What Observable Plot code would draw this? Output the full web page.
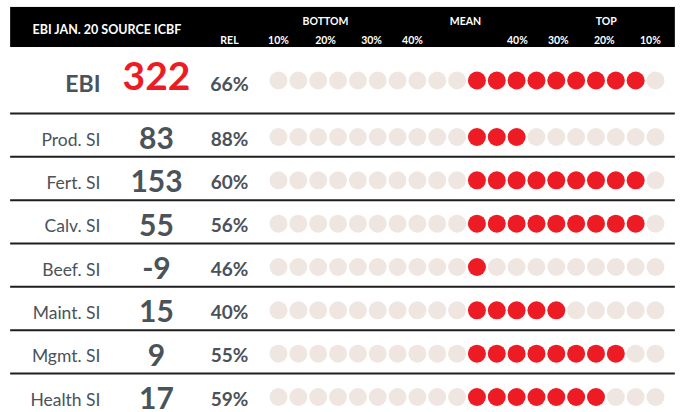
<!DOCTYPE html>
<html><head><meta charset="utf-8">
<script src="https://cdn.jsdelivr.net/npm/d3@7"></script>
<script src="https://cdn.jsdelivr.net/npm/@observablehq/plot@0.6"></script>
<style>body{margin:0;background:#fff}</style>
</head><body><div id="chart"></div>
<script>
// ---- data ----
const headerTitle = "EBI JAN. 20 SOURCE ICBF";
const groupLabels = ["BOTTOM", "MEAN", "TOP"];
const tickLabels = ["10%", "20%", "30%", "40%", "40%", "30%", "20%", "10%"];
const relHeader = "REL";
const indexName = "EBI";
const indexValue = 322;
const indexRel = "66%";
const indexRed = 9;
const traits = ["Prod. SI", "Fert. SI", "Calv. SI", "Beef. SI", "Maint. SI", "Mgmt. SI", "Health SI"];
const traitValues = [83, 153, 55, -9, 15, 9, 17];
const traitRel = ["88%", "60%", "56%", "46%", "40%", "55%", "59%"];
const traitRed = [3, 9, 9, 1, 5, 8, 7];
const dotCount = 20;
const meanIndex = 10;

// ---- layout (in scale units: x = dot index, y = row index) ----
const groupPos = [2.37, 9.42, 16.52];
const tickPos = [0, 2.37, 4.69, 6.75, 12.04, 14.1, 16.42, 18.74];
const colLabel = -8.97, colValue = -6.15, colRel = -2.47, colTitle = -12.4;
const xLeft = -13.5, xRight = 20.0;
const indexRow = -1.304;
const headTop = -2.99, headBottom = -2.065;
const titleBase = -2.366, groupBase = -2.596, tickBase = -2.135;

const RED = "#ed1c24", GRAY = "#f0e6e1", INK = "#4a525a";
const FONT = "Lato, 'Open Sans', sans-serif";

const rows = [{name: indexName, value: indexValue, rel: indexRel, red: indexRed, row: indexRow, main: true}]
  .concat(traits.map((t, k) => ({name: t, value: traitValues[k], rel: traitRel[k], red: traitRed[k], row: k, main: false})));
const dots = rows.flatMap(r => d3.range(dotCount).map(i => ({row: r.row, i, on: i >= meanIndex && i < meanIndex + r.red})));
const lines = traits.map((t, k) => k - 0.542);
const main = rows.filter(r => r.main), sub = rows.filter(r => !r.main);
const fmt = v => (v < 0 ? "-" : "") + Math.abs(v);

const chart = Plot.plot({
  width: 681, height: 412, margin: 0,
  x: {domain: [0, 19], range: [278, 655], axis: null},
  y: {domain: [0, 6], range: [136.5, 396.5], axis: null},
  color: {type: "identity"},
  style: {fontFamily: FONT, background: "#fff"},
  marks: [
    Plot.rect([0], {x1: xLeft, x2: xRight, y1: headTop, y2: headBottom, fill: "#000"}),
    Plot.text([headerTitle], {x: colTitle, y: titleBase, text: d => d, textAnchor: "start", lineAnchor: "bottom", fill: "#fff", fontWeight: "bold", fontSize: 12.5}),
    Plot.text(groupLabels, {x: (d, i) => groupPos[i], y: groupBase, text: d => d, lineAnchor: "bottom", fill: "#fff", fontWeight: "bold", fontSize: 10.5}),
    Plot.text(tickLabels, {x: (d, i) => tickPos[i], y: tickBase, text: d => d, lineAnchor: "bottom", fill: "#fff", fontWeight: "bold", fontSize: 10.5}),
    Plot.text([relHeader], {x: colRel, y: tickBase, text: d => d, lineAnchor: "bottom", fill: "#fff", fontWeight: "bold", fontSize: 10.5}),
    Plot.ruleY(lines, {x1: xLeft, x2: xRight, stroke: "#1e1e1e", strokeWidth: 2}),
    Plot.dot(dots, {x: "i", y: "row", r: 9, fill: d => d.on ? RED : GRAY}),
    // index row
    Plot.text(main, {x: colLabel, y: "row", text: "name", textAnchor: "end", lineAnchor: "bottom", dy: 12, fill: INK, fontWeight: "bold", fontSize: 23}),
    Plot.text(main, {x: colValue, y: "row", text: d => fmt(d.value), lineAnchor: "bottom", dy: 10, fill: RED, fontWeight: "bold", fontSize: 39}),
    Plot.text(main, {x: colRel, y: "row", text: "rel", lineAnchor: "bottom", dy: 10.5, fill: INK, fontWeight: "bold", fontSize: 19.5}),
    // trait rows
    Plot.text(sub, {x: colLabel, y: "row", text: "name", textAnchor: "end", lineAnchor: "bottom", dy: 8.5, fill: INK, fontSize: 17.5}),
    Plot.text(sub, {x: colValue, y: "row", text: d => fmt(d.value), lineAnchor: "bottom", dy: 12, fill: INK, fontWeight: "bold", fontSize: 30}),
    Plot.text(sub, {x: colRel, y: "row", text: "rel", lineAnchor: "bottom", dy: 8.5, fill: INK, fontWeight: "bold", fontSize: 19})
  ]
});
document.getElementById("chart").appendChild(chart);
</script>
</body></html>
